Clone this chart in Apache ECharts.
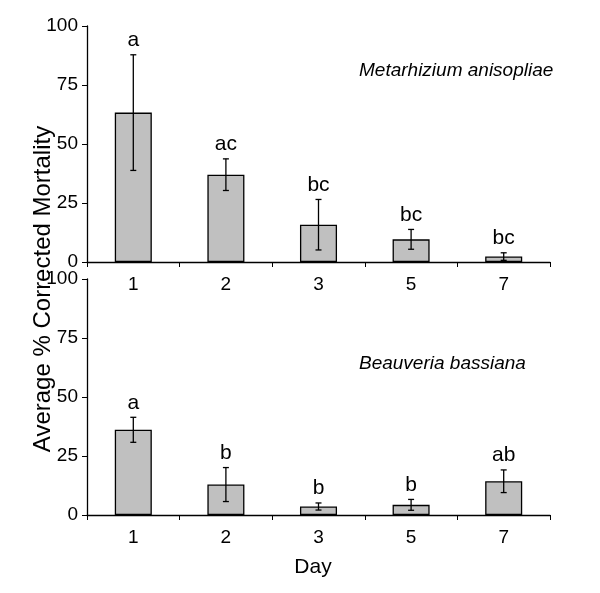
<!DOCTYPE html>
<html>
<head>
<meta charset="utf-8">
<script src="https://cdn.jsdelivr.net/npm/echarts@6/dist/echarts.min.js"></script>
<style>html,body{margin:0;padding:0;background:#fff;}#c{width:600px;height:593px;}</style>
</head>
<body>
<div id="c"></div>
<script>
var days = ['1', '2', '3', '5', '7'];
var yTicks = [0, 25, 50, 75, 100];
var metMean = [63.3, 37.0, 15.8, 9.6, 2.3];
var metErr = [24.5, 6.7, 10.7, 4.2, 1.6];
var metLetters = ['a', 'ac', 'bc', 'bc', 'bc'];
var beaMean = [36.1, 12.9, 3.6, 4.3, 14.3];
var beaErr = [5.3, 7.2, 1.5, 2.3, 4.8];
var beaLetters = ['a', 'b', 'b', 'b', 'ab'];
var species = ['Metarhizium anisopliae', 'Beauveria bassiana'];
var yTitle = 'Average % Corrected Mortality';
var xTitle = 'Day';

var FONT = '"Liberation Sans", Arial, sans-serif';
var chart = echarts.init(document.getElementById('c'), null, {renderer: 'canvas'});

function errData(mean, err, letters) {
  return mean.map(function (m, i) { return [i, m - err[i], m + err[i], letters[i]]; });
}
function renderErr(params, api) {
  var x = api.value(0);
  var lo = api.coord([x, api.value(1)]);
  var hi = api.coord([x, api.value(2)]);
  var cap = 3;
  var st = {stroke: '#000', lineWidth: 1.3};
  return {
    type: 'group',
    children: [
      {type: 'line', shape: {x1: hi[0], y1: hi[1], x2: lo[0], y2: lo[1]}, style: st},
      {type: 'line', shape: {x1: hi[0] - cap, y1: hi[1], x2: hi[0] + cap, y2: hi[1]}, style: st},
      {type: 'line', shape: {x1: lo[0] - cap, y1: lo[1], x2: lo[0] + cap, y2: lo[1]}, style: st},
      {type: 'text', x: hi[0], y: hi[1] - 4, style: {text: api.value(3), fill: '#000', font: '21px ' + FONT, textAlign: 'center', textVerticalAlign: 'bottom'}}
    ]
  };
}

function xAxisCfg(idx) {
  return {
    type: 'category', gridIndex: idx, data: days,
    axisLine: {lineStyle: {color: '#000', width: 1.3}},
    axisTick: {show: true, alignWithLabel: false, length: 5, lineStyle: {color: '#000'}},
    axisLabel: {color: '#000', fontSize: 19, fontFamily: FONT, margin: 13},
    splitLine: {show: false}
  };
}
function yAxisCfg(idx) {
  return {
    type: 'value', gridIndex: idx, min: 0, max: 100, interval: 25,
    axisLine: {show: true, lineStyle: {color: '#000', width: 1.3}},
    axisTick: {show: true, length: 5, lineStyle: {color: '#000'}},
    axisLabel: {color: '#000', fontSize: 19, fontFamily: FONT, margin: 9},
    splitLine: {show: false}
  };
}

var barStyle = {color: '#c0c0c0', borderColor: '#000', borderWidth: 1.3};

chart.setOption({
  animation: false,
  backgroundColor: '#fff',
  grid: [
    {left: 87, right: 50, top: 26, height: 236},
    {left: 87, right: 50, top: 279, height: 236}
  ],
  xAxis: [xAxisCfg(0), xAxisCfg(1)],
  yAxis: [yAxisCfg(0), yAxisCfg(1)],
  graphic: [
    {type: 'text', left: 359, top: 61, style: {text: species[0], font: 'italic 19px ' + FONT, fill: '#000'}},
    {type: 'text', left: 359, top: 354, style: {text: species[1], font: 'italic 19px ' + FONT, fill: '#000'}},
    {type: 'text', x: 43, y: 289, rotation: Math.PI / 2, style: {text: yTitle, font: '24px ' + FONT, fill: '#000', textAlign: 'center', textVerticalAlign: 'middle'}},
    {type: 'text', x: 313, y: 567, style: {text: xTitle, font: '21px ' + FONT, fill: '#000', textAlign: 'center', textVerticalAlign: 'middle'}}
  ],
  series: [
    {type: 'bar', xAxisIndex: 0, yAxisIndex: 0, data: metMean, barWidth: '40%', itemStyle: barStyle},
    {type: 'custom', xAxisIndex: 0, yAxisIndex: 0, data: errData(metMean, metErr, metLetters), renderItem: renderErr, z: 10},
    {type: 'bar', xAxisIndex: 1, yAxisIndex: 1, data: beaMean, barWidth: '40%', itemStyle: barStyle},
    {type: 'custom', xAxisIndex: 1, yAxisIndex: 1, data: errData(beaMean, beaErr, beaLetters), renderItem: renderErr, z: 10}
  ]
});
</script>
</body>
</html>
